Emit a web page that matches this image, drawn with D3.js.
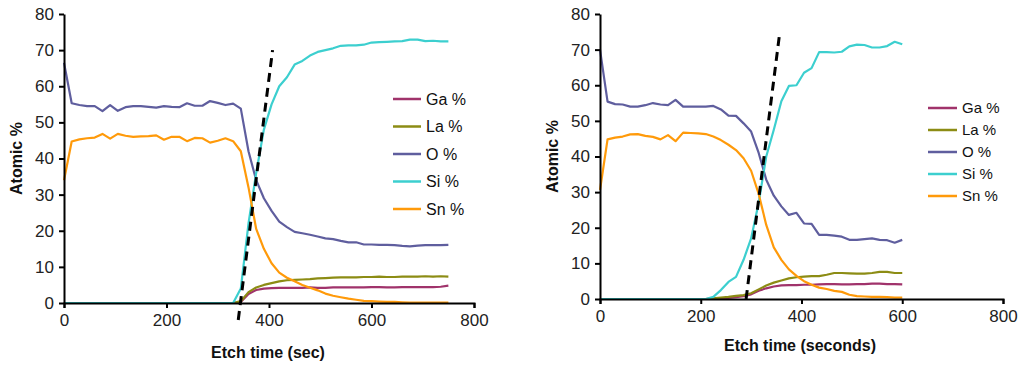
<!DOCTYPE html>
<html>
<head>
<meta charset="utf-8">
<script src="https://d3js.org/d3.v7.min.js"></script>
<style>
body { margin: 0; background: #fff; }
svg { display: block; }
.tick text { font-family: "Liberation Sans", Arial, sans-serif; font-size: 17px; fill: #222; }
.axis path, .axis line { stroke: #000; stroke-width: 2px; }
.title { font-family: "Liberation Sans", Arial, sans-serif; font-weight: bold; font-size: 16px; fill: #111; }
.leg { font-family: "Liberation Sans", Arial, sans-serif; fill: #111; }
</style>
</head>
<body>
<svg id="chart" width="1024" height="368"></svg>
<script>
// sample times (every 15 s)
var timeLeft = d3.range(0, 751, 15);
var timeRight = d3.range(0, 601, 15);

var elements = ["Ga %", "La %", "O %", "Si %", "Sn %"];
var colors = ["#A0336B", "#8C8C14", "#5F5E9E", "#3CCFCF", "#FF9A0A"];
var xTicks = [0, 200, 400, 600, 800];
var yTicks = [0, 10, 20, 30, 40, 50, 60, 70, 80];

// left panel (etch time in sec)
var gaLeft = [0,0,0,0,0,0,0,0,0,0,0,0,0,0,0,0,0,0,0,0,0,0,0,
  0.3,2.5,3.6,4.0,4.1,4.2,4.2,4.2,4.2,4.3,4.2,4.2,4.3,4.3,4.3,4.3,4.3,4.4,4.4,4.3,4.3,4.4,4.4,4.4,4.4,4.4,4.5,4.8];
var laLeft = [0,0,0,0,0,0,0,0,0,0,0,0,0,0,0,0,0,0,0,0,0,0,0,
  0.5,3.0,4.3,5.0,5.5,6.0,6.3,6.4,6.5,6.6,6.8,6.9,7.0,7.1,7.1,7.1,7.2,7.2,7.3,7.2,7.2,7.3,7.3,7.3,7.4,7.3,7.4,7.3];
var oLeft = [66.5,55.3,54.8,54.5,54.5,53.1,54.8,53.2,54.2,54.5,54.5,54.3,54.1,54.5,54.3,54.2,55.3,54.6,54.6,55.9,55.4,54.8,55.2,
  53.8,42,34,29,25.5,22.5,21,19.7,19.3,18.9,18.4,17.9,17.7,17.2,16.8,16.8,16.2,16.2,16.1,16.1,16.0,15.8,15.7,15.9,16.0,16.0,16.0,16.1];
var siLeft = [0,0,0,0,0,0,0,0,0,0,0,0,0,0,0,0,0,0,0,0,0,0,0,
  4,22,36,48,55,60,62.5,66,67,68.5,69.5,70,70.5,71.2,71.3,71.3,71.5,72.1,72.2,72.3,72.4,72.5,72.9,72.9,72.5,72.6,72.4,72.4];
var snLeft = [34,44.7,45.3,45.6,45.8,46.8,45.5,46.8,46.3,46,46.1,46.2,46.4,45.2,46,46,44.8,45.7,45.6,44.4,44.9,45.6,44.8,
  42,32,20.5,15,11,8.4,7.0,6.0,5.0,4.2,3.5,2.6,2.0,1.6,1.2,0.9,0.6,0.5,0.4,0.3,0.3,0.2,0.1,0.1,0.1,0.1,0.1,0.1];

// right panel (etch time in seconds)
var gaRight = [0,0,0,0,0,0,0,0,0,0,0,0,0,0,0,
  0.1,0.2,0.3,0.5,0.8,1.3,2.3,3.0,3.5,3.8,3.9,3.9,4.0,4.0,4.1,4.2,4.2,4.1,4.1,4.2,4.2,4.3,4.3,4.2,4.2,4.1];
var laRight = [0,0,0,0,0,0,0,0,0,0,0,0,0,0,0,
  0.2,0.4,0.6,0.9,1.1,1.6,2.7,3.8,4.6,5.2,5.8,6.1,6.3,6.4,6.4,6.8,7.3,7.3,7.2,7.1,7.1,7.3,7.6,7.6,7.3,7.3];
var oRight = [70,55.4,54.7,54.6,54.0,54.0,54.4,55.0,54.6,54.4,55.9,54.0,54.0,54.0,54.0,54.2,53.2,51.5,51.4,49.3,47,
  41,33.5,29,26,23.6,24.2,21.2,21.1,18,18,17.8,17.5,16.6,16.6,16.8,17,16.6,16.5,15.8,16.6];
var siRight = [0,0,0,0,0,0,0,0,0,0,0,0,0,0,0,
  0.6,2.5,4.8,6.2,11,17,27,40,47.5,55.5,59.8,60,63.5,64.8,69.3,69.3,69.2,69.4,70.9,71.4,71.3,70.6,70.6,71.0,72.2,71.5];
var snRight = [30.6,44.8,45.3,45.6,46.2,46.3,45.8,45.5,44.8,46.0,44.3,46.7,46.6,46.5,46.3,45.6,44.6,43.3,41.8,39.5,36,
  29.5,20.8,14.5,11,8.3,6.5,5,4,3.2,2.8,2.3,2.0,1.2,0.8,0.7,0.6,0.6,0.5,0.4,0.4];

// dashed guide lines [time, atomic %]
var guideLeft = [[340, -4.7], [407, 70]];
var guideRight = [[290, 0], [357, 75]];

var svg = d3.select("#chart");

function drawPanel(opt) {
  var x = d3.scaleLinear().domain([0, 800]).range([opt.left, opt.right]);
  var y = d3.scaleLinear().domain([0, 80]).range([opt.bottom, opt.top]);
  var g = svg.append("g");

  var series = [opt.ga, opt.la, opt.o, opt.si, opt.sn];
  var line = d3.line()
    .x(function (d, i) { return x(opt.time[i]); })
    .y(function (d) { return y(d); });

  series.forEach(function (s, k) {
    g.append("path")
      .attr("d", line(s))
      .attr("fill", "none")
      .attr("stroke", colors[k])
      .attr("stroke-width", 2.2)
      .attr("stroke-linejoin", "round");
  });

  g.append("line")
    .attr("x1", x(opt.guide[0][0])).attr("y1", y(opt.guide[0][1]))
    .attr("x2", x(opt.guide[1][0])).attr("y2", y(opt.guide[1][1]))
    .attr("stroke", "#000")
    .attr("stroke-width", 3)
    .attr("stroke-dasharray", "9,6");

  g.append("g").attr("class", "axis")
    .attr("transform", "translate(0," + opt.bottom + ")")
    .call(d3.axisBottom(x).tickValues(xTicks).tickSize(5).tickPadding(6).tickSizeOuter(5));

  g.append("g").attr("class", "axis")
    .attr("transform", "translate(" + opt.left + ",0)")
    .call(d3.axisLeft(y).tickValues(yTicks).tickSize(5).tickPadding(5).tickSizeOuter(0));

  g.append("text").attr("class", "title")
    .attr("transform", "translate(" + (opt.left - 42) + "," + ((opt.top + opt.bottom) / 2) + ") rotate(-90)")
    .attr("text-anchor", "middle")
    .text("Atomic %");

  g.append("text").attr("class", "title")
    .attr("x", opt.xTitleX).attr("y", opt.xTitleY)
    .attr("text-anchor", "middle")
    .text(opt.xTitle);

  var leg = g.append("g").attr("transform", "translate(" + opt.legX + "," + opt.legY + ")");
  elements.forEach(function (name, k) {
    leg.append("line")
      .attr("x1", 0).attr("x2", opt.legLen)
      .attr("y1", k * opt.legStep).attr("y2", k * opt.legStep)
      .attr("stroke", colors[k]).attr("stroke-width", 2.5);
    leg.append("text").attr("class", "leg")
      .attr("x", opt.legLen + 5).attr("y", k * opt.legStep)
      .attr("dy", "0.36em")
      .style("font-size", opt.legFont + "px")
      .text(name);
  });
}

drawPanel({
  time: timeLeft, ga: gaLeft, la: laLeft, o: oLeft, si: siLeft, sn: snLeft,
  guide: guideLeft,
  left: 64, right: 474, top: 14, bottom: 303,
  xTitle: "Etch time (sec)", xTitleX: 268, xTitleY: 358,
  legX: 393, legY: 99, legLen: 28, legStep: 27.5, legFont: 16
});

drawPanel({
  time: timeRight, ga: gaRight, la: laRight, o: oRight, si: siRight, sn: snRight,
  guide: guideRight,
  left: 600, right: 1003, top: 14, bottom: 299,
  xTitle: "Etch time (seconds)", xTitleX: 800, xTitleY: 351,
  legX: 928, legY: 108, legLen: 29, legStep: 22, legFont: 15
});
</script>
</body>
</html>
